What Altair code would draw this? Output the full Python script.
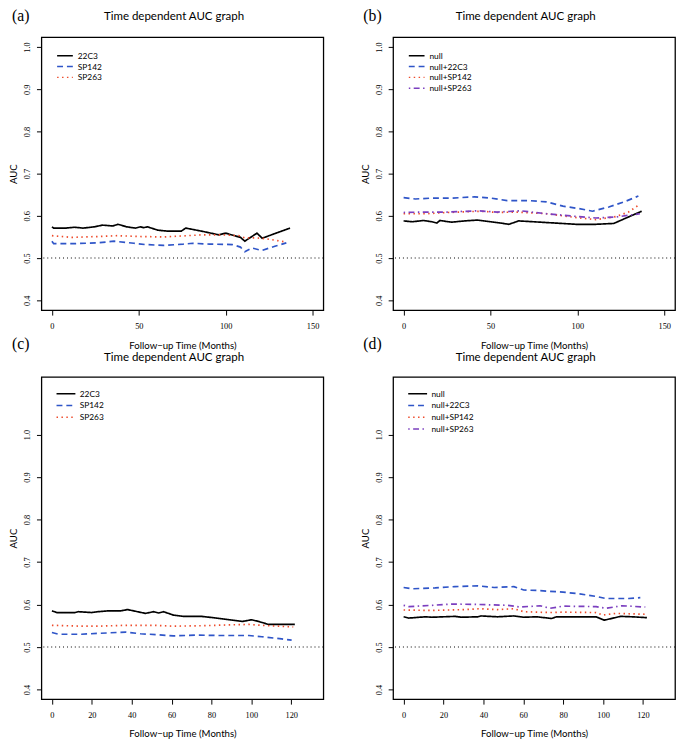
import altair as alt
import pandas as pd

# ---------------- data ----------------
# Panel (a)
A_T_22C3 = [0, 1, 8, 13, 18, 24.5, 29, 35, 38, 43, 48, 51, 52.8, 55, 61, 66, 74.5, 77, 87, 96, 100, 108.5, 111, 118, 121, 137]
A_V_22C3 = [0.574, 0.571, 0.571, 0.573, 0.571, 0.574, 0.578, 0.576, 0.580, 0.574, 0.571, 0.574, 0.572, 0.574, 0.566, 0.564, 0.564, 0.571, 0.563, 0.555, 0.559, 0.549, 0.540, 0.559, 0.547, 0.571]
A_T_SP142 = [0, 1, 11.3, 26.4, 35.8, 47.2, 53.8, 64.2, 75.5, 81.1, 90.6, 103.8, 108.5, 111, 115, 120.8, 128.3, 134.9]
A_V_SP142 = [0.540, 0.534, 0.534, 0.536, 0.540, 0.535, 0.532, 0.530, 0.533, 0.535, 0.533, 0.532, 0.526, 0.515, 0.524, 0.518, 0.528, 0.536]
A_T_SP263 = [0, 11.3, 26.4, 37.7, 50.9, 64.2, 77.4, 86.8, 98.1, 107.5, 111, 117, 122.6, 134.9]
A_V_SP263 = [0.553, 0.549, 0.551, 0.553, 0.551, 0.550, 0.553, 0.555, 0.555, 0.553, 0.548, 0.548, 0.546, 0.538]

# Panel (b)
B_T_NULL = [0, 4.9, 11.5, 16.2, 19.1, 20.9, 27.5, 35.1, 42.6, 50.2, 54, 60.6, 66.2, 74.7, 99.2, 110.6, 120.9, 137]
B_V_NULL = [0.588, 0.586, 0.589, 0.586, 0.583, 0.589, 0.585, 0.588, 0.590, 0.586, 0.584, 0.580, 0.588, 0.586, 0.580, 0.580, 0.582, 0.611]
B_T_22C3 = [0, 6.8, 16.2, 27.5, 40.8, 50.2, 59.6, 72.8, 82.3, 91.7, 101.1, 108.7, 118.1, 127.5, 135.1]
B_V_22C3 = [0.643, 0.640, 0.642, 0.642, 0.645, 0.642, 0.636, 0.636, 0.633, 0.623, 0.617, 0.611, 0.621, 0.634, 0.647]
B_T_SP142 = [0, 12.5, 25.7, 44.5, 54, 65.3, 82.3, 101.1, 110.6, 121.9, 129.4, 135.1]
B_V_SP142 = [0.605, 0.605, 0.608, 0.611, 0.608, 0.609, 0.605, 0.595, 0.591, 0.598, 0.609, 0.625]
B_T_SP263 = [0, 10.6, 25.7, 42.6, 54, 67.2, 82.3, 101.1, 110.6, 121.9, 136]
B_V_SP263 = [0.608, 0.609, 0.609, 0.612, 0.609, 0.612, 0.605, 0.598, 0.595, 0.597, 0.605]

# Panel (c)
C_T_22C3 = [0, 2.5, 11.5, 13.2, 19.8, 23, 28, 34.6, 37.9, 46.9, 51, 53.5, 56, 60.9, 65.8, 74.9, 80.7, 88.9, 95.5, 100.1, 103.7, 108.6, 121.8]
C_V_22C3 = [0.585, 0.581, 0.581, 0.583, 0.581, 0.583, 0.585, 0.585, 0.588, 0.579, 0.583, 0.580, 0.583, 0.575, 0.572, 0.572, 0.569, 0.564, 0.560, 0.564, 0.560, 0.553, 0.553]
C_T_SP142 = [0, 3.3, 14.8, 23, 37, 44.4, 52.7, 60.9, 72.4, 82.3, 98.8, 105.3, 115.2, 120.2]
C_V_SP142 = [0.534, 0.530, 0.530, 0.532, 0.535, 0.531, 0.529, 0.526, 0.528, 0.527, 0.527, 0.524, 0.519, 0.516]
C_T_SP263 = [0, 14.8, 23, 37.9, 51, 60.9, 75.7, 88.9, 98.8, 108.6, 121]
C_V_SP263 = [0.551, 0.549, 0.549, 0.551, 0.551, 0.549, 0.550, 0.552, 0.553, 0.550, 0.547]

# Panel (d)
D_T_NULL = [0, 2.6, 10.9, 14.2, 25.7, 29, 37.2, 38.8, 47.1, 55.3, 60.2, 66.8, 74.2, 76.7, 96.5, 100.6, 108.8, 114.6, 122]
D_V_NULL = [0.571, 0.568, 0.571, 0.570, 0.572, 0.570, 0.571, 0.573, 0.571, 0.573, 0.570, 0.571, 0.567, 0.571, 0.571, 0.563, 0.572, 0.571, 0.569]
D_T_22C3 = [0, 4.3, 15.8, 25.7, 37.2, 45.4, 55.3, 60.2, 66.8, 73.4, 80, 88.2, 96.5, 101.4, 112.9, 118.7]
D_V_22C3 = [0.640, 0.637, 0.639, 0.642, 0.644, 0.640, 0.642, 0.634, 0.633, 0.631, 0.629, 0.625, 0.619, 0.614, 0.614, 0.616]
D_T_SP142 = [0, 14.2, 30.6, 38, 47.1, 55.3, 60.2, 73.4, 80, 96.5, 99.8, 106.3, 121.2]
D_V_SP142 = [0.587, 0.586, 0.588, 0.590, 0.588, 0.590, 0.583, 0.581, 0.582, 0.581, 0.575, 0.579, 0.577]
D_T_SP263 = [0, 2.6, 14.2, 24, 37.2, 52, 58.6, 68.5, 73.4, 80, 96.5, 101.4, 109.6, 121.2]
D_V_SP263 = [0.598, 0.595, 0.598, 0.601, 0.600, 0.598, 0.594, 0.597, 0.591, 0.596, 0.595, 0.591, 0.597, 0.594]

PANEL_LABELS = ["(a)", "(b)", "(c)", "(d)"]
PANEL_TITLE = "Time dependent AUC graph"
X_TITLE = "Follow\u2212up Time (Months)"
Y_TITLE = "AUC"
SERIES_AC = ["22C3", "SP142", "SP263"]
SERIES_BD = ["null", "null+22C3", "null+SP142", "null+SP263"]
Y_TICKS = [0.4, 0.5, 0.6, 0.7, 0.8, 0.9, 1.0]
X_TICKS_TOP = [0, 50, 100, 150]
X_TICKS_BOTTOM = [0, 20, 40, 60, 80, 100, 120]
REF_AUC = [0.5]

# ---------------- styles ----------------
BLACK = "#000000"
BLUE = "#2F55C8"
RED = "#EE4B2B"
PURPLE = "#7B3FBF"
SOLID = [1, 0]
DASHED = [6, 4]
DOTTED = [1.5, 3.5]
DOTDASH = [1.5, 3.5, 6, 3.5]
LEGEND_LINE = "M-1.6,0H1.6"

PLOT_W = 287
TOP_H = 278
BOT_H = 328


def make_df(names, times, values):
    rows = []
    for n, ts, vs in zip(names, times, values):
        for t, v in zip(ts, vs):
            rows.append({"series": n, "time": t, "auc": v})
    return pd.DataFrame(rows)


def panel(label, names, times, values, colors, dashes, xdom, xticks, ydom, h,
          label_y, title_y, legend_y, sym_size, x_title_pad):
    df = make_df(names, times, values)
    leg = alt.Legend(
        title=None, orient="none", legendX=18, legendY=legend_y,
        symbolType=LEGEND_LINE, symbolSize=sym_size, symbolStrokeWidth=1.5,
        labelFont="Lato", labelFontSize=8.5, labelColor="black",
        labelOffset=7, rowPadding=0, padding=0,
    )
    xenc = alt.X(
        "time:Q",
        scale=alt.Scale(domain=xdom, nice=False, zero=False),
        axis=alt.Axis(values=xticks, title=X_TITLE, labelAngle=0, format="d",
                      titlePadding=x_title_pad),
    )
    yenc = alt.Y(
        "auc:Q",
        scale=alt.Scale(domain=ydom, nice=False, zero=False),
        axis=alt.Axis(values=Y_TICKS, format=".1f", title=Y_TITLE, labelAngle=270,
                      labelPadding=5, titlePadding=4),
    )
    ref = alt.Chart(pd.DataFrame({"auc": REF_AUC})).mark_rule(
        color="black", strokeWidth=1.1, strokeDash=[1, 3]
    ).encode(y=alt.Y("auc:Q"))
    lines = alt.Chart(df).mark_line(strokeWidth=1.7).encode(
        x=xenc,
        y=yenc,
        color=alt.Color("series:N", scale=alt.Scale(domain=names, range=colors), legend=leg),
        strokeDash=alt.StrokeDash("series:N", scale=alt.Scale(domain=names, range=dashes), legend=leg),
        order=alt.Order("time:Q"),
    )
    lab = alt.Chart(pd.DataFrame({"t": [label]})).mark_text(
        font="Liberation Serif", fontSize=16, align="center", baseline="middle", color="black"
    ).encode(text="t:N", x=alt.value(-21), y=alt.value(label_y))
    ttl = alt.Chart(pd.DataFrame({"t": [PANEL_TITLE]})).mark_text(
        font="Lato", fontSize=11.7, align="center", baseline="middle", color="black"
    ).encode(text="t:N", x=alt.value(135), y=alt.value(title_y))
    return alt.layer(lines, ref, lab, ttl).properties(width=PLOT_W, height=h)


pa = panel(PANEL_LABELS[0], SERIES_AC,
           [A_T_22C3, A_T_SP142, A_T_SP263], [A_V_22C3, A_V_SP142, A_V_SP263],
           [BLACK, BLUE, RED], [SOLID, DASHED, DOTTED],
           [-6.06, 156.2], X_TICKS_TOP, [0.3765, 1.0235], TOP_H, -21, -21.5, 13, 100, 10)
pb = panel(PANEL_LABELS[1], SERIES_BD,
           [B_T_NULL, B_T_22C3, B_T_SP142, B_T_SP263], [B_V_NULL, B_V_22C3, B_V_SP142, B_V_SP263],
           [BLACK, BLUE, RED, PURPLE], [SOLID, DASHED, DOTTED, DOTDASH],
           [-6.06, 156.2], X_TICKS_TOP, [0.3765, 1.0235], TOP_H, -21, -21.5, 13, 100, 10)
pc = panel(PANEL_LABELS[2], SERIES_AC,
           [C_T_22C3, C_T_SP142, C_T_SP263], [C_V_22C3, C_V_SP142, C_V_SP263],
           [BLACK, BLUE, RED], [SOLID, DASHED, DOTTED],
           [-5.28, 136.1], X_TICKS_BOTTOM, [0.377, 1.1355], BOT_H, -33, -20, 10, 144, 9)
pd_ = panel(PANEL_LABELS[3], SERIES_BD,
            [D_T_NULL, D_T_22C3, D_T_SP142, D_T_SP263], [D_V_NULL, D_V_22C3, D_V_SP142, D_V_SP263],
            [BLACK, BLUE, RED, PURPLE], [SOLID, DASHED, DOTTED, DOTDASH],
            [-5.28, 136.1], X_TICKS_BOTTOM, [0.377, 1.1355], BOT_H, -33, -20, 10, 144, 9)

chart = alt.concat(
    pa, pb, pc, pd_, columns=2, bounds="flush", spacing={"row": 68, "column": 71}
).resolve_scale(
    x="independent", y="independent", color="independent", strokeDash="independent"
).resolve_legend(
    color="independent", strokeDash="independent"
).properties(
    padding={"left": 0, "top": -7, "right": 0, "bottom": 0}
).configure_view(
    stroke="black", strokeWidth=1.3
).configure_axis(
    grid=False, domain=False, tickColor="black", tickSize=5, tickWidth=1,
    labelFont="Liberation Serif", labelFontSize=8.5, labelColor="black",
    titleFont="Lato", titleFontSize=9.8, titleFontWeight="normal", titleColor="black",
).configure_axisX(labelPadding=7)

chart.save("out.html", embed_options={"renderer": "svg", "actions": False})
